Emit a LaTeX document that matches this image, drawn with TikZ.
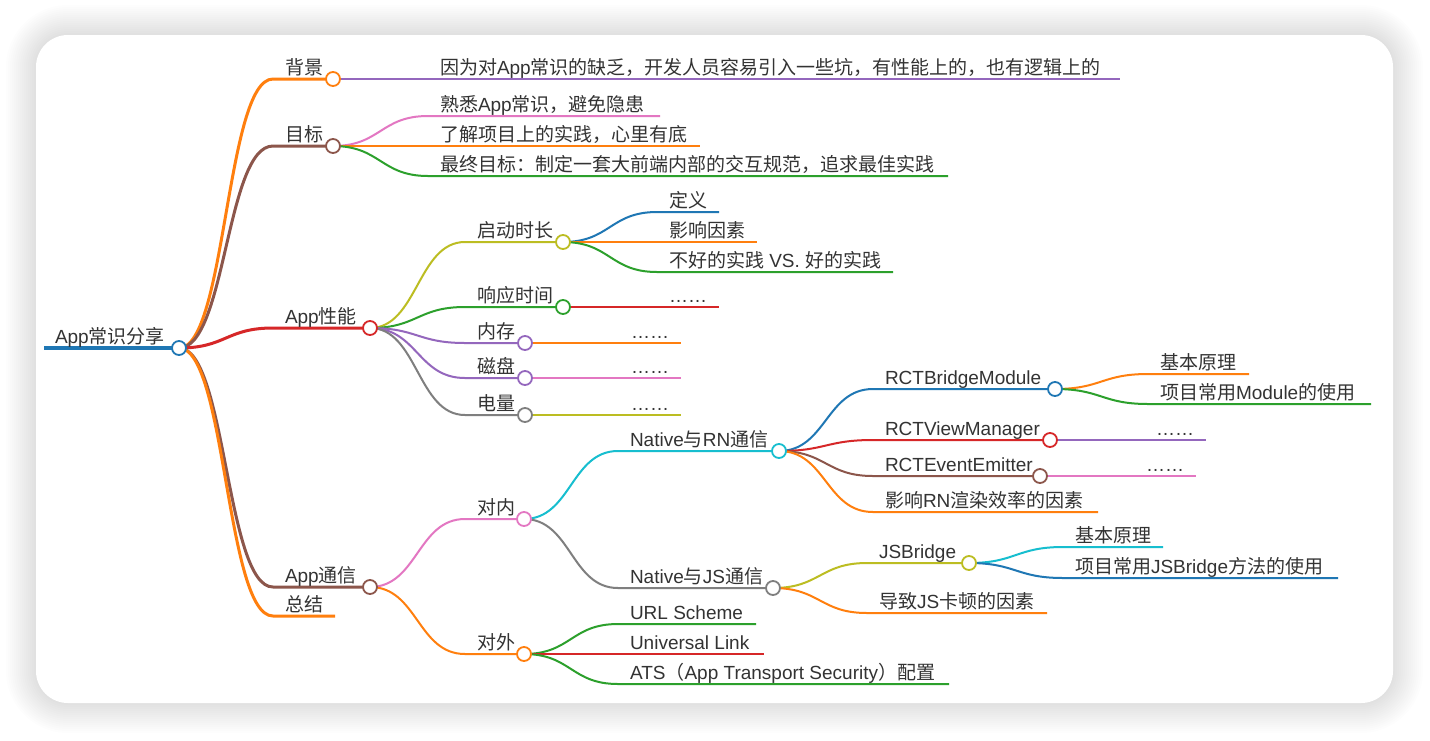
\documentclass[tikz,border=0pt]{standalone}
\usepackage{fontspec}
\setmainfont{Liberation Sans}
\newfontfamily\cjkfont{Noto Sans CJK SC}
\newfontfamily\latfont{Liberation Sans}
\usetikzlibrary{calc}
\XeTeXinterchartokenstate=1
\newXeTeXintercharclass\CJKcls
\newcount\cjkc
\cjkc="4E00 \loop\XeTeXcharclass\cjkc=\CJKcls \advance\cjkc by 1 \ifnum\cjkc<"A000 \repeat
\cjkc="FF00 \loop\XeTeXcharclass\cjkc=\CJKcls \advance\cjkc by 1 \ifnum\cjkc<"FFF0 \repeat
\cjkc="3000 \loop\XeTeXcharclass\cjkc=\CJKcls \advance\cjkc by 1 \ifnum\cjkc<"3040 \repeat
\XeTeXinterchartoks 0 \CJKcls = {\cjkfont}
\XeTeXinterchartoks 4095 \CJKcls = {\cjkfont}
\XeTeXinterchartoks \CJKcls 0 = {\latfont}
\XeTeXinterchartoks \CJKcls 4095 = {\latfont}
\definecolor{c10blue}{HTML}{1F77B4}
\definecolor{c10orange}{HTML}{FF7F0E}
\definecolor{c10green}{HTML}{2CA02C}
\definecolor{c10red}{HTML}{D62728}
\definecolor{c10purple}{HTML}{9467BD}
\definecolor{c10brown}{HTML}{8C564B}
\definecolor{c10pink}{HTML}{E377C2}
\definecolor{c10gray}{HTML}{7F7F7F}
\definecolor{c10olive}{HTML}{BCBD22}
\definecolor{c10cyan}{HTML}{17BECF}
\definecolor{txtc}{HTML}{333333}
\pgfdeclarelayer{back}
\pgfdeclarelayer{bg}
\pgfsetlayers{back,bg,main}
\tikzset{
  mmdot/.style={circle, fill=white, line width=1.8pt, minimum size=14pt, inner sep=0pt},
  lbl/.style={anchor=base west, inner sep=0pt, outer sep=0pt, text=txtc, font=\fontsize{19}{22}\selectfont\latfont},
}
% inner node: parent, name, colour, width, text left, circle x, y, text
\newcommand\inode[8]{%
  \coordinate (#2S) at ({#5-12},#7);
  \node[mmdot, draw=#3] (#2) at (#6,#7) {};
  \node[lbl] (#2T) at (#5,{#7-5}) {#8};
  \begin{pgfonlayer}{bg}
  \draw[line width=#4pt, draw=#3] let \p1=(#1.center), \p2=(#2S) in
    (#1.center) .. controls ({(\x1+\x2)/2},\y1) and ({(\x1+\x2)/2},\y2) .. (#2S) -- (#2.center);
  \end{pgfonlayer}
}
% leaf node: parent, name, colour, width, text left, end x, y, text
\newcommand\lnode[8]{%
  \coordinate (#2S) at ({#5-12},#7);
  \coordinate (#2) at (#6,#7);
  \node[lbl] (#2T) at (#5,{#7-5}) {#8};
  \begin{pgfonlayer}{bg}
  \draw[line width=#4pt, draw=#3] let \p1=(#1.center), \p2=(#2S) in
    (#1.center) .. controls ({(\x1+\x2)/2},\y1) and ({(\x1+\x2)/2},\y2) .. (#2S) -- (#2.center);
  \end{pgfonlayer}
}
\begin{document}
\begin{tikzpicture}[x=1pt,y=-1pt]
\useasboundingbox (0,0) rectangle (1430,740);
\begin{pgfonlayer}{back}
\fill[white] (0,0) rectangle (1430,740);
\foreach \i in {1,...,15}{
  \pgfmathsetmacro\rr{32+2*\i}
  \fill[black, opacity=0.009, rounded corners=\rr pt] ({36-2*\i},{35-2*\i}) rectangle ({1393+2*\i},{703+2*\i});
}
\fill[white, rounded corners=32pt] (36,35) rectangle (1393,703);
\end{pgfonlayer}

% root
\coordinate (rootS) at (44,348);
\node[mmdot, draw=c10blue] (root) at (179,348) {};
\node[lbl] (rootT) at (55,343) {App常识分享};
\begin{pgfonlayer}{bg}
\draw[line width=4pt, c10blue] (rootS) -- (root.center);
\end{pgfonlayer}

% level 1
\inode{root}{bj}{c10orange}{3}{285}{333}{79}{背景}
\inode{root}{mb}{c10brown}{3}{285}{333}{146}{目标}
\inode{root}{xn}{c10red}{3}{285}{370}{328}{App性能}
\inode{root}{tx}{c10brown}{3}{285}{370}{587}{App通信}
\lnode{root}{zj}{c10orange}{3}{285}{335}{616}{总结}

% 背景 / 目标
\lnode{bj}{bjA}{c10purple}{2}{440}{1120}{79}{因为对App常识的缺乏，开发人员容易引入一些坑，有性能上的，也有逻辑上的}
\lnode{mb}{mbA}{c10pink}{2}{440}{660}{116}{熟悉App常识，避免隐患}
\lnode{mb}{mbB}{c10orange}{2}{440}{700}{146}{了解项目上的实践，心里有底}
\lnode{mb}{mbC}{c10green}{2}{440}{948}{176}{最终目标：制定一套大前端内部的交互规范，追求最佳实践}

% App性能
\inode{xn}{qd}{c10olive}{2}{477}{563}{242}{启动时长}
\inode{xn}{xy}{c10green}{2}{477}{563}{307}{响应时间}
\inode{xn}{nc}{c10purple}{2}{477}{525}{343}{内存}
\inode{xn}{cp}{c10purple}{2}{477}{525}{378}{磁盘}
\inode{xn}{dl}{c10gray}{2}{477}{525}{415}{电量}
\lnode{qd}{qdA}{c10blue}{2}{669}{719}{212}{定义}
\lnode{qd}{qdB}{c10orange}{2}{669}{757}{242}{影响因素}
\lnode{qd}{qdC}{c10green}{2}{669}{893}{272}{不好的实践 VS. 好的实践}
\lnode{xy}{xyA}{c10red}{2}{669}{719}{307}{……}
\lnode{nc}{ncA}{c10orange}{2}{631}{681}{343}{……}
\lnode{cp}{cpA}{c10pink}{2}{631}{681}{378}{……}
\lnode{dl}{dlA}{c10olive}{2}{631}{681}{415}{……}

% App通信
\inode{tx}{dn}{c10pink}{2}{477}{524}{519}{对内}
\inode{tx}{dw}{c10orange}{2}{477}{524}{654}{对外}
\inode{dn}{rn}{c10cyan}{2}{630}{779}{451}{Native与RN通信}
\inode{dn}{js}{c10gray}{2}{630}{773}{588}{Native与JS通信}
\inode{rn}{bm}{c10blue}{2}{885}{1055}{389}{RCTBridgeModule}
\inode{rn}{vm}{c10red}{2}{885}{1050}{440}{RCTViewManager}
\inode{rn}{ee}{c10brown}{2}{885}{1040}{476}{RCTEventEmitter}
\lnode{rn}{rnD}{c10orange}{2}{885}{1098}{512}{影响RN渲染效率的因素}
\lnode{bm}{bmA}{c10orange}{2}{1160}{1249}{374}{基本原理}
\lnode{bm}{bmB}{c10green}{2}{1160}{1371}{404}{项目常用Module的使用}
\lnode{vm}{vmA}{c10purple}{2}{1156}{1206}{440}{……}
\lnode{ee}{eeA}{c10pink}{2}{1146}{1196}{476}{……}
\inode{js}{jb}{c10olive}{2}{879}{969}{563}{JSBridge}
\lnode{js}{jsB}{c10orange}{2}{879}{1047}{613}{导致JS卡顿的因素}
\lnode{jb}{jbA}{c10cyan}{2}{1075}{1163}{547}{基本原理}
\lnode{jb}{jbB}{c10blue}{2}{1075}{1338}{578}{项目常用JSBridge方法的使用}
\lnode{dw}{dwA}{c10green}{2}{630}{756}{624}{URL Scheme}
\lnode{dw}{dwB}{c10red}{2}{630}{764}{654}{Universal Link}
\lnode{dw}{dwC}{c10green}{2}{630}{949}{684}{ATS（App Transport Security）配置}
\end{tikzpicture}
\end{document}
